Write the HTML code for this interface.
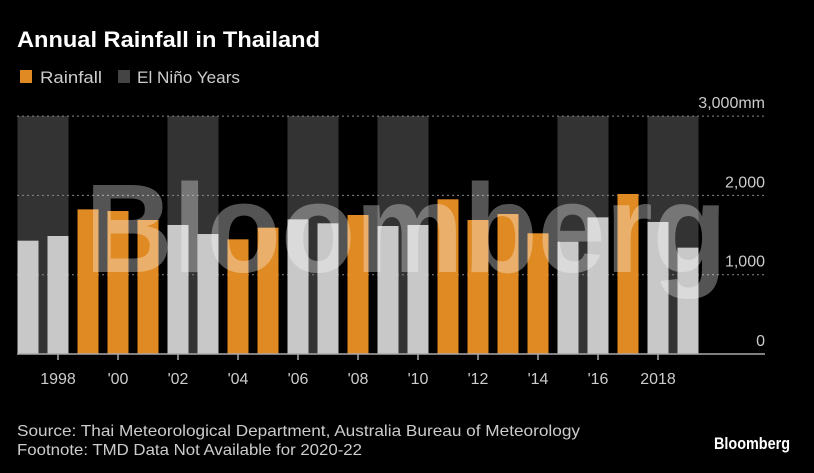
<!DOCTYPE html>
<html><head><meta charset="utf-8"><style>
html,body{margin:0;padding:0;background:#000;}
svg{display:block;font-family:"Liberation Sans",sans-serif;}
</style></head><body>
<svg id="chart" width="814" height="473" viewBox="0 0 814 473" xmlns="http://www.w3.org/2000/svg">
<rect width="814" height="473" fill="#000"/>
<text x="17" y="47" fill="#fff" font-size="22" font-weight="bold" textLength="303" lengthAdjust="spacingAndGlyphs">Annual Rainfall in Thailand</text>
<g>
<rect x="20" y="70" width="12" height="13" fill="#e08a23"/>
<text x="40" y="83" fill="#ccc" font-size="17" textLength="62" lengthAdjust="spacingAndGlyphs">Rainfall</text>
<rect x="118" y="70" width="12" height="13" fill="#444"/>
<text x="137" y="83" fill="#ccc" font-size="17" textLength="103" lengthAdjust="spacingAndGlyphs">El Niño Years</text>
</g>
<g id="bands"></g>
<g id="grid"></g>
<g id="bars"></g>
<g id="axis"></g>
<text x="85" y="272" fill="rgba(255,255,255,0.33)" font-size="126" font-weight="bold" textLength="642" lengthAdjust="spacingAndGlyphs">Bloomberg</text>
<text x="17" y="436" fill="#ccc" font-size="16" textLength="563" lengthAdjust="spacingAndGlyphs">Source: Thai Meteorological Department, Australia Bureau of Meteorology</text>
<text x="17" y="455" fill="#ccc" font-size="16" textLength="345" lengthAdjust="spacingAndGlyphs">Footnote: TMD Data Not Available for 2020-22</text>
<text x="714" y="449" fill="#fff" font-size="17" font-weight="bold" textLength="76" lengthAdjust="spacingAndGlyphs">Bloomberg</text>
</svg>
<script>
const years = [1997,1998,1999,2000,2001,2002,2003,2004,2005,2006,2007,2008,2009,2010,2011,2012,2013,2014,2015,2016,2017,2018,2019];
const rainfall = [1429,1488,1824,1803,1690,1627,1513,1446,1593,1698,1648,1753,1614,1627,1951,1690,1765,1522,1416,1723,2018,1665,1341];
const orangeYears = [1999,2000,2001,2004,2005,2008,2011,2012,2013,2014,2017];
const elNinoYears = [1997,1998,2002,2003,2006,2007,2009,2010,2015,2016,2018,2019];
const yTicks = [0,1000,2000,3000];
const yTickLabels = ["0","1,000","2,000","3,000mm"];
const xTickYears = [1998,2000,2002,2004,2006,2008,2010,2012,2014,2016,2018];
const xTickLabels = ["1998","'00","'02","'04","'06","'08","'10","'12","'14","'16","2018"];

const NS="http://www.w3.org/2000/svg";
const x0=17, x1=765, yBase=354, pxPer=79.3/1000;
const slot=30, barW=21;
function xC(yr){return 28+(yr-1997)*slot;}
function yS(v){return yBase-v*pxPer;}
function mk(tag,attrs,parent){const e=document.createElementNS(NS,tag);for(const k in attrs)e.setAttribute(k,attrs[k]);parent.appendChild(e);return e;}

const bands=document.getElementById('bands');
// group consecutive El Nino years
const groups=[];
elNinoYears.forEach(yr=>{
  const g=groups[groups.length-1];
  if(g && g[1]===yr-1) g[1]=yr; else groups.push([yr,yr]);
});
groups.forEach(g=>{
  const xs=xC(g[0])-barW/2, xe=xC(g[1])+barW/2;
  const r=mk('rect',{x:xs,y:yS(3000),width:xe-xs,height:yS(0)-yS(3000),fill:'#333'},bands);
  
  
});
const grid=document.getElementById('grid');
yTicks.forEach((t,i)=>{
  if(t>0){
    const l=mk('line',{x1:x0,x2:x1,y1:yS(t),y2:yS(t),stroke:'#888','stroke-width':1,'stroke-dasharray':'2,3'},grid);
    
    
  }
  const tx=mk('text',{x:x1,y:yS(t)-8,fill:'#ccc','font-size':16,'text-anchor':'end'},grid);
  tx.textContent=yTickLabels[i];
  
  
});
const bars=document.getElementById('bars');
years.forEach((yr,i)=>{
  const v=rainfall[i];
  const r=mk('rect',{x:xC(yr)-barW/2,y:yS(v),width:barW,height:yS(0)-yS(v),fill:orangeYears.includes(yr)?'#e08a23':'#c8c8c8'},bars);
  
  
});
const axis=document.getElementById('axis');
const al=mk('line',{x1:x0,x2:x1,y1:yBase,y2:yBase,stroke:'#aaa','stroke-width':1.5},axis);


xTickYears.forEach((yr,i)=>{
  const t=mk('line',{x1:xC(yr),x2:xC(yr),y1:yBase,y2:yBase+6,stroke:'#aaa','stroke-width':1.5},axis);
  
  
  const tx=mk('text',{x:xC(yr),y:384,fill:'#ccc','font-size':16,'text-anchor':'middle'},axis);
  tx.textContent=xTickLabels[i];
  
  
});
</script>
</body></html>
